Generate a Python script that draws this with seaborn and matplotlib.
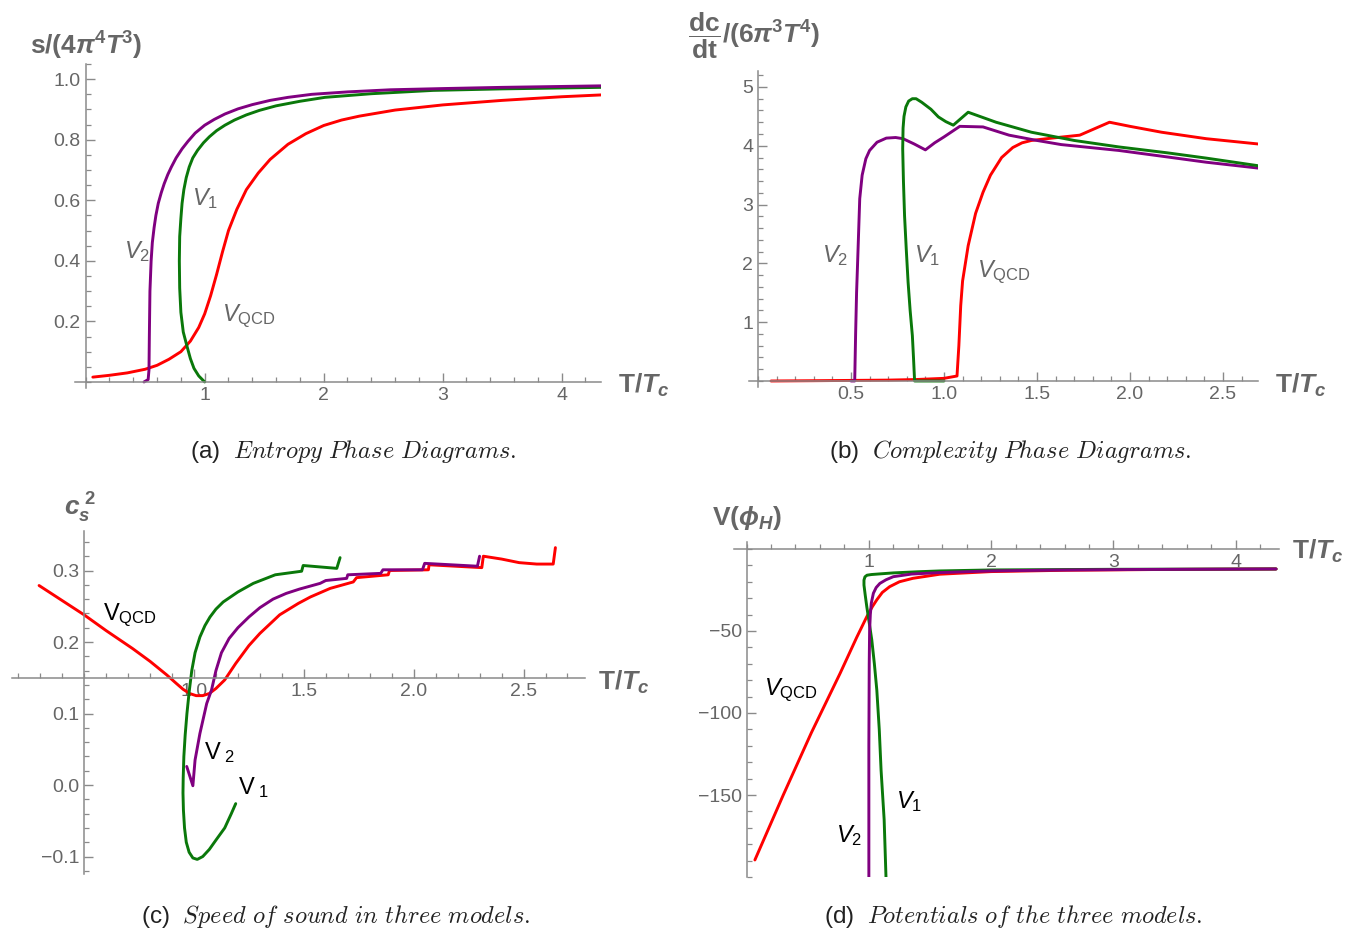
import numpy as np
import pandas as pd
import matplotlib
matplotlib.use("Agg")
import matplotlib.pyplot as plt
from matplotlib.ticker import MultipleLocator, FixedLocator, FuncFormatter
import seaborn as sns

# ---------------- data ----------------
# (a) entropy  s/(4 pi^4 T^3)  vs T/Tc
a_qcd_x = [0.06, 0.2, 0.35, 0.5, 0.6, 0.7, 0.8, 0.88, 0.95, 1.0, 1.05, 1.1, 1.15, 1.2, 1.27, 1.35, 1.45, 1.55, 1.7, 1.85, 2.0, 2.15, 2.3, 2.6, 3.0, 3.5, 4.0, 4.33]
a_qcd_y = [0.016, 0.022, 0.030, 0.042, 0.055, 0.075, 0.10, 0.135, 0.18, 0.225, 0.285, 0.355, 0.43, 0.50, 0.57, 0.635, 0.69, 0.735, 0.785, 0.82, 0.847, 0.865, 0.878, 0.898, 0.915, 0.93, 0.942, 0.948]
a_v2_x = [0.49, 0.525, 0.532, 0.535, 0.54, 0.55, 0.56, 0.575, 0.59, 0.61, 0.635, 0.66, 0.69, 0.72, 0.76, 0.81, 0.86, 0.92, 1.0, 1.08, 1.17, 1.28, 1.4, 1.55, 1.7, 1.9, 2.2, 2.56, 3.0, 3.5, 4.0, 4.33]
a_v2_y = [0.0, 0.008, 0.04, 0.15, 0.30, 0.40, 0.46, 0.51, 0.55, 0.59, 0.625, 0.655, 0.685, 0.71, 0.74, 0.77, 0.795, 0.822, 0.848, 0.867, 0.885, 0.902, 0.916, 0.93, 0.94, 0.95, 0.958, 0.965, 0.969, 0.973, 0.976, 0.978]
a_v1_x = [1.0, 0.95, 0.91, 0.88, 0.85, 0.82, 0.80, 0.79, 0.787, 0.79, 0.80, 0.81, 0.825, 0.845, 0.87, 0.9, 0.94, 0.99, 1.04, 1.1, 1.17, 1.25, 1.35, 1.46, 1.6, 1.8, 2.01, 2.4, 2.92, 3.5, 4.33]
a_v1_y = [0.0, 0.02, 0.045, 0.077, 0.12, 0.165, 0.23, 0.31, 0.40, 0.48, 0.54, 0.59, 0.635, 0.675, 0.71, 0.74, 0.765, 0.79, 0.81, 0.83, 0.848, 0.865, 0.882, 0.897, 0.912, 0.927, 0.94, 0.952, 0.963, 0.968, 0.973]

# (b) complexity growth
b_qcd_x = [0.07, 0.3, 0.5, 0.7, 0.85, 1.0, 1.07, 1.08, 1.09, 1.1, 1.13, 1.17, 1.21, 1.25, 1.31, 1.37, 1.42, 1.47, 1.58, 1.73, 1.89, 2.0, 2.17, 2.41, 2.69]
b_qcd_y = [0.0, 0.005, 0.01, 0.015, 0.025, 0.045, 0.085, 0.6, 1.28, 1.7, 2.3, 2.85, 3.21, 3.5, 3.8, 3.97, 4.05, 4.09, 4.13, 4.18, 4.40, 4.33, 4.23, 4.12, 4.03]
b_v2_x = [0.5, 0.52, 0.525, 0.53, 0.535, 0.547, 0.56, 0.58, 0.6, 0.64, 0.69, 0.74, 0.78, 0.84, 0.90, 0.95, 1.0, 1.085, 1.21, 1.35, 1.5, 1.63, 1.94, 2.2, 2.41, 2.69]
b_v2_y = [0.0, 0.0, 0.82, 1.5, 1.96, 3.10, 3.5, 3.78, 3.92, 4.06, 4.13, 4.14, 4.12, 4.03, 3.93, 4.05, 4.15, 4.33, 4.32, 4.18, 4.09, 4.02, 3.92, 3.81, 3.72, 3.62]
b_v1_x = [1.0, 0.842, 0.836, 0.83, 0.818, 0.807, 0.797, 0.788, 0.782, 0.778, 0.78, 0.785, 0.795, 0.81, 0.83, 0.85, 0.88, 0.93, 0.97, 1.01, 1.05, 1.13, 1.28, 1.47, 1.70, 1.94, 2.2, 2.41, 2.69]
b_v1_y = [0.0, 0.0, 0.4, 0.77, 1.2, 1.68, 2.25, 2.81, 3.4, 3.95, 4.3, 4.5, 4.66, 4.76, 4.80, 4.80, 4.74, 4.62, 4.49, 4.41, 4.35, 4.57, 4.40, 4.23, 4.09, 3.98, 3.88, 3.79, 3.66]

# (c) speed of sound squared
c_qcd_x = [0.295, 0.4, 0.5, 0.6, 0.72, 0.8, 0.876, 0.92, 0.95, 0.98, 1.01, 1.04, 1.07, 1.1, 1.14, 1.19, 1.25, 1.30, 1.39, 1.475, 1.53, 1.62, 1.725, 1.74, 1.884, 1.89, 2.067, 2.07, 2.31, 2.317, 2.40, 2.48, 2.56, 2.635, 2.645]
c_qcd_y = [0.279, 0.258, 0.238, 0.216, 0.191, 0.173, 0.154, 0.142, 0.134, 0.128, 0.125, 0.125, 0.128, 0.135, 0.147, 0.17, 0.195, 0.212, 0.238, 0.254, 0.263, 0.275, 0.284, 0.29, 0.294, 0.30, 0.301, 0.308, 0.304, 0.32, 0.316, 0.311, 0.309, 0.309, 0.332]
c_v2_x = [0.967, 0.995, 1.005, 1.027, 1.058, 1.08, 1.10, 1.125, 1.16, 1.20, 1.25, 1.30, 1.36, 1.42, 1.48, 1.574, 1.60, 1.695, 1.70, 1.85, 1.86, 2.04, 2.05, 2.29, 2.30]
c_v2_y = [0.026, -0.001, 0.035, 0.072, 0.114, 0.133, 0.16, 0.185, 0.205, 0.22, 0.235, 0.248, 0.26, 0.268, 0.274, 0.282, 0.286, 0.289, 0.294, 0.296, 0.301, 0.301, 0.31, 0.306, 0.32]
c_v1_x = [1.19, 1.17, 1.14, 1.10, 1.07, 1.04, 1.015, 0.995, 0.978, 0.965, 0.957, 0.952, 0.95, 0.951, 0.954, 0.96, 0.968, 0.978, 0.99, 1.005, 1.027, 1.05, 1.073, 1.1, 1.133, 1.20, 1.27, 1.37, 1.49, 1.497, 1.65, 1.665]
c_v1_y = [-0.026, -0.04, -0.06, -0.077, -0.09, -0.10, -0.104, -0.102, -0.094, -0.08, -0.06, -0.035, -0.011, 0.01, 0.04, 0.07, 0.10, 0.13, 0.16, 0.185, 0.207, 0.223, 0.235, 0.246, 0.256, 0.27, 0.282, 0.294, 0.299, 0.307, 0.303, 0.318]

# (d) potentials V(phi_H)
d_qcd_x = [0.068, 0.3, 0.53, 0.765, 0.9, 0.983, 1.03, 1.065, 1.11, 1.17, 1.25, 1.36, 1.58, 2.0, 2.6, 3.4, 4.33]
d_qcd_y = [-189.6, -150, -112, -75.8, -54, -41.3, -35, -31, -26.5, -23, -20, -17.9, -15.4, -13.8, -13.0, -12.5, -12.2]
d_v1_x = [1.14, 1.125, 1.10, 1.085, 1.065, 1.045, 1.024, 1.003, 0.983, 0.97, 0.96, 0.96, 0.968, 0.985, 1.02, 1.09, 1.2, 1.4, 1.58, 2.0, 3.0, 4.33]
d_v1_y = [-200, -165, -135, -110, -86, -70, -55.5, -45, -35.2, -28, -22, -19, -17, -16, -15.6, -15.2, -14.6, -13.9, -13.4, -12.8, -12.4, -12.2]
d_v2_x = [1.0, 1.0, 1.003, 1.006, 1.012, 1.02, 1.037, 1.06, 1.09, 1.14, 1.2, 1.35, 1.58, 2.0, 2.5, 3.2, 4.33]
d_v2_y = [-200, -120, -70, -50, -40, -33, -27, -23.5, -21, -18.8, -16.9, -15.3, -14.4, -13.4, -12.9, -12.5, -12.2]

captions = ["Entropy Phase Diagrams.", "Complexity Phase Diagrams.",
            "Speed of sound in three models.", "Potentials of the three models."]
cap_letters = ["(a)", "(b)", "(c)", "(d)"]

RED, GREEN, PURPLE = "#FF0000", "#0A780A", "#800080"
AXC, TXC = "#8a8a8a", "#666666"

# ---------------- style ----------------
sns.set_theme(style="white")
plt.rcParams.update({
    "font.family": ["Liberation Sans", "DejaVu Sans"],
    "mathtext.fontset": "custom",
    "mathtext.rm": "Liberation Sans",
    "mathtext.it": "Liberation Sans:italic",
    "mathtext.bf": "Liberation Sans:bold",
    "mathtext.bfit": "Liberation Sans:italic:bold",
    "axes.facecolor": "none",
})

fig = plt.figure(figsize=(13.68, 9.35), dpi=100)


def fmt(decimals):
    def f(v, pos):
        s = f"{v:.{decimals}f}"
        return s.replace("-", "\u2212")
    return FuncFormatter(f)


def make_ax(rect, xlim, ylim, x0, y0):
    ax = fig.add_axes(rect)
    ax.set_xlim(*xlim)
    ax.set_ylim(*ylim)
    for s in ["top", "right"]:
        ax.spines[s].set_visible(False)
    ax.spines["left"].set_position(("data", x0))
    ax.spines["bottom"].set_position(("data", y0))
    for s in ["left", "bottom"]:
        ax.spines[s].set_color(AXC)
        ax.spines[s].set_linewidth(1.1)
    ax.tick_params(which="both", bottom=True, left=True, top=False, right=False)
    ax.tick_params(which="major", direction="in", length=6.5, width=1, color=AXC,
                   labelcolor=TXC, labelsize=14)
    ax.tick_params(which="minor", direction="in", length=3.5, width=0.9, color=AXC)
    ax.grid(False)
    return ax


def curve(ax, xs, ys, color):
    df = pd.DataFrame({"x": xs, "y": ys})
    sns.lineplot(data=df, x="x", y="y", sort=False, estimator=None, color=color,
                 linewidth=2.1, ax=ax)
    ax.set_xlabel("")
    ax.set_ylabel("")


TTC = r"$\mathbf{T/}\mathbfit{T}_{\mathbfit{c}}$"
LFS = 17   # curve label size
AFS = 19   # axis label size

# ---------- (a) ----------
axa = make_ax([0.0548, 0.585, 0.3845, 0.3465], (-0.09, 4.33), (-0.02, 1.05), 0, 0)
curve(axa, a_qcd_x, a_qcd_y, RED)
curve(axa, a_v1_x, a_v1_y, GREEN)
curve(axa, a_v2_x, a_v2_y, PURPLE)
axa.xaxis.set_major_locator(FixedLocator([1, 2, 3, 4]))
axa.xaxis.set_minor_locator(MultipleLocator(0.2))
axa.xaxis.set_major_formatter(fmt(0))
axa.yaxis.set_major_locator(FixedLocator([0.2, 0.4, 0.6, 0.8, 1.0]))
axa.yaxis.set_minor_locator(MultipleLocator(0.05))
axa.yaxis.set_major_formatter(fmt(1))
axa.text(0.43, 0.43, r"$\mathit{V}_{2}$", color=TXC, fontsize=LFS, ha="center", va="center")
axa.text(1.0, 0.605, r"$\mathit{V}_{1}$", color=TXC, fontsize=LFS, ha="center", va="center")
axa.text(1.37, 0.218, r"$\mathit{V}_{\mathrm{QCD}}$", color=TXC, fontsize=LFS, ha="center", va="center")
axa.text(4.47, -0.01, TTC, color=TXC, fontsize=AFS, ha="left", va="center", clip_on=False)
fig.text(30 / 1368, 1 - 46 / 935,
         r"$\mathbf{s/(4}\mathbfit{\pi}^{\mathbf{4}}\mathbfit{T}^{\mathbf{3}}\mathbf{)}$",
         color=TXC, fontsize=AFS, ha="left", va="center")

# ---------- (b) ----------
axb = make_ax([0.5473, 0.5856, 0.3725, 0.3384], (-0.05, 2.69), (-0.11, 5.27), 0, 0)
curve(axb, b_qcd_x, b_qcd_y, RED)
curve(axb, b_v2_x, b_v2_y, PURPLE)
curve(axb, b_v1_x, b_v1_y, GREEN)
axb.xaxis.set_major_locator(FixedLocator([0.5, 1.0, 1.5, 2.0, 2.5]))
axb.xaxis.set_minor_locator(MultipleLocator(0.1))
axb.xaxis.set_major_formatter(fmt(1))
axb.yaxis.set_major_locator(FixedLocator([1, 2, 3, 4, 5]))
axb.yaxis.set_minor_locator(MultipleLocator(0.2))
axb.yaxis.set_major_formatter(fmt(0))
axb.text(0.414, 2.13, r"$\mathit{V}_{2}$", color=TXC, fontsize=LFS, ha="center", va="center")
axb.text(0.91, 2.13, r"$\mathit{V}_{1}$", color=TXC, fontsize=LFS, ha="center", va="center")
axb.text(1.32, 1.85, r"$\mathit{V}_{\mathrm{QCD}}$", color=TXC, fontsize=LFS, ha="center", va="center")
axb.text(2.78, -0.07, TTC, color=TXC, fontsize=AFS, ha="left", va="center", clip_on=False)
fig.text(688 / 1368, 1 - 36 / 935,
         r"$\dfrac{\mathbf{dc}}{\mathbf{dt}}\mathbf{/(6}\mathbfit{\pi}^{\mathbf{3}}\mathbfit{T}^{\mathbf{4}}\mathbf{)}$",
         color=TXC, fontsize=AFS, ha="left", va="center")

# ---------- (c) ----------
axc = make_ax([0.00848, 0.0648, 0.4192, 0.3671], (0.17, 2.78), (-0.125, 0.355), 0.5, 0.15)
curve(axc, c_qcd_x, c_qcd_y, RED)
curve(axc, c_v1_x, c_v1_y, GREEN)
curve(axc, c_v2_x, c_v2_y, PURPLE)
axc.xaxis.set_major_locator(FixedLocator([1.0, 1.5, 2.0, 2.5]))
axc.xaxis.set_minor_locator(MultipleLocator(0.1))
axc.xaxis.set_major_formatter(fmt(1))
axc.yaxis.set_major_locator(FixedLocator([-0.1, 0.0, 0.1, 0.2, 0.3]))
axc.yaxis.set_minor_locator(MultipleLocator(0.02))
axc.yaxis.set_major_formatter(fmt(1))
axc.text(0.71, 0.238, r"$\mathrm{V}_{\mathrm{QCD}}$", color="black", fontsize=LFS, ha="center", va="center")
axc.text(1.114, 0.046, r"$\mathrm{V}_{\ 2}$", color="black", fontsize=LFS, ha="center", va="center")
axc.text(1.27, -0.003, r"$\mathrm{V}_{\ 1}$", color="black", fontsize=LFS, ha="center", va="center")
axc.text(2.84, 0.144, TTC, color=TXC, fontsize=AFS, ha="left", va="center", clip_on=False)
fig.text(64 / 1368, 1 - 508 / 935, r"$\mathbfit{c}_{\mathbfit{s}}^{\ \mathbf{2}}$",
         color=TXC, fontsize=AFS, ha="left", va="center")

# ---------- (d) ----------
axd = make_ax([0.5368, 0.062, 0.3978, 0.3579], (-0.1, 4.35), (-200, 4), 0, 0)
curve(axd, d_qcd_x, d_qcd_y, RED)
curve(axd, d_v1_x, d_v1_y, GREEN)
curve(axd, d_v2_x, d_v2_y, PURPLE)
axd.xaxis.set_major_locator(FixedLocator([1, 2, 3, 4]))
axd.xaxis.set_minor_locator(MultipleLocator(0.2))
axd.xaxis.set_major_formatter(fmt(0))
axd.yaxis.set_major_locator(FixedLocator([-150, -100, -50]))
axd.yaxis.set_minor_locator(MultipleLocator(10))
axd.yaxis.set_major_formatter(fmt(0))
axd.text(0.36, -86, r"$\mathit{V}_{\mathrm{QCD}}$", color="black", fontsize=LFS, ha="center", va="center")
axd.text(0.84, -175, r"$\mathit{V}_{2}$", color="black", fontsize=LFS, ha="center", va="center")
axd.text(1.33, -154, r"$\mathit{V}_{1}$", color="black", fontsize=LFS, ha="center", va="center")
axd.text(4.46, -1.2, TTC, color=TXC, fontsize=AFS, ha="left", va="center", clip_on=False)
fig.text(712 / 1368, 1 - 518 / 935, r"$\mathbf{V(}\mathbfit{\phi}_{\mathbfit{H}}\mathbf{)}$",
         color=TXC, fontsize=AFS, ha="left", va="center")

# ---------- captions ----------
cap_pos = [(353, 451), (1010, 451), (336, 917), (1013, 917)]
for (cx, cy), let, cap in zip(cap_pos, cap_letters, captions):
    body = r"\ ".join(cap.split(" "))
    fig.text(cx / 1368, 1 - cy / 935, let + r"  $\mathit{" + body + "}$",
             fontsize=17.5, color="#222222", ha="center", va="center",
             math_fontfamily="cm")

fig.savefig("out.png", dpi=100)
